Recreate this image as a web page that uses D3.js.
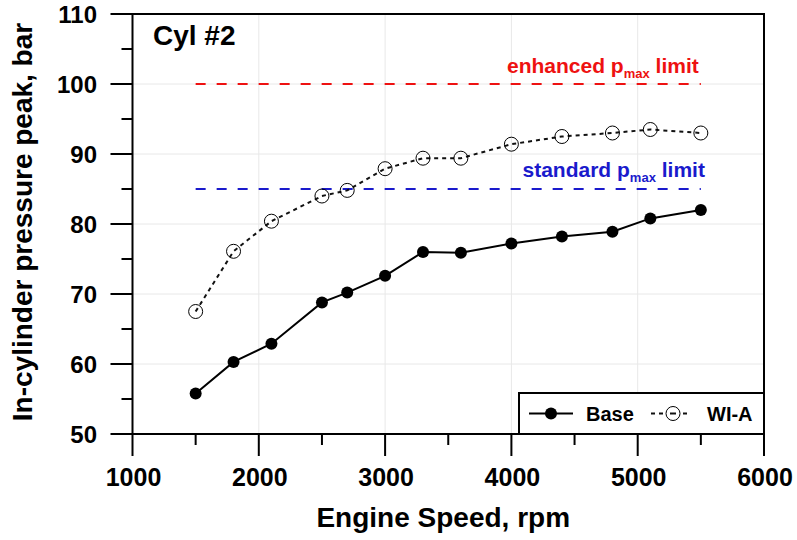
<!DOCTYPE html>
<html><head><meta charset="utf-8">
<script src="https://cdn.jsdelivr.net/npm/d3@7"></script>
<style>body{margin:0;background:#fff}svg{display:block}text{font-family:"Liberation Sans",Arial,sans-serif;font-weight:bold}</style>
</head><body><svg id="c" width="797" height="540"></svg>
<script>
const speeds = [1500,1800,2100,2500,2700,3000,3300,3600,4000,4400,4800,5100,5500];
const baseVals = [55.8,60.3,62.9,68.8,70.2,72.6,76.0,75.9,77.2,78.2,78.9,80.8,82.0];
const wiaVals  = [67.5,76.1,80.4,84.0,84.8,87.9,89.4,89.4,91.4,92.5,93.0,93.5,93.0];
const xTicks = [1000,2000,3000,4000,5000,6000];
const yTicks = [50,60,70,80,90,100,110];
const xMinor = [1500,2500,3500,4500,5500];
const yMinor = [55,65,75,85,95,105];
const limits = [{value:100,label:"enhanced p",sub:"max",tail:" limit",color:"#ee1111"},
                {value:85,label:"standard p",sub:"max",tail:" limit",color:"#1a1acc"}];
const limitRange = [1500,5500];

const svg = d3.select("#c");
const L=132.5,R=764,T=14,B=434;
const x = d3.scaleLinear().domain([1000,6000]).range([L,R]);
const y = d3.scaleLinear().domain([50,110]).range([B,T]);

// grid
const g = svg.append("g");
g.selectAll(".gx").data(xTicks.slice(1,-1)).join("line")
 .attr("x1",d=>x(d)).attr("x2",d=>x(d)).attr("y1",T).attr("y2",B)
 .attr("stroke","#e8e8e8").attr("stroke-width",1);
g.selectAll(".gy").data(yTicks.slice(1,-1)).join("line")
 .attr("x1",L).attr("x2",R).attr("y1",d=>y(d)).attr("y2",d=>y(d))
 .attr("stroke","#e8e8e8").attr("stroke-width",1);

// limit lines
limits.forEach((l,i)=>{
  svg.append("line").attr("x1",x(limitRange[0])).attr("x2",x(limitRange[1]))
   .attr("y1",y(l.value)).attr("y2",y(l.value))
   .attr("stroke",l.color).attr("stroke-width",2).attr("stroke-dasharray","10,11");
});
const lt = [{x:507,y:73},{x:522.5,y:177}];
limits.forEach((l,i)=>{
  const t = svg.append("text").attr("x",lt[i].x).attr("y",lt[i].y).attr("fill",l.color).attr("font-size",21);
  t.append("tspan").text(l.label);
  t.append("tspan").attr("font-size",13).attr("dy",5).text(l.sub);
  t.append("tspan").attr("dy",-5).text(l.tail);
});

// series
const line = d3.line().x((d,i)=>x(speeds[i])).y(d=>y(d));
svg.append("path").datum(wiaVals).attr("d",line).attr("fill","none")
 .attr("stroke","#111").attr("stroke-width",2).attr("stroke-dasharray","4,4");
svg.append("path").datum(baseVals).attr("d",line).attr("fill","none")
 .attr("stroke","#000").attr("stroke-width",2);
svg.selectAll(".bm").data(baseVals).join("circle")
 .attr("cx",(d,i)=>x(speeds[i])).attr("cy",d=>y(d)).attr("r",6).attr("fill","#000");
svg.selectAll(".wm").data(wiaVals).join("circle")
 .attr("cx",(d,i)=>x(speeds[i])).attr("cy",d=>y(d)).attr("r",7)
 .attr("fill","none").attr("stroke","#000").attr("stroke-width",1);

// axes frame
const ax = svg.append("g").attr("stroke","#000").attr("stroke-width",2);
ax.append("rect").attr("x",L).attr("y",T).attr("width",R-L).attr("height",B-T).attr("fill","none");
ax.selectAll(".xt").data(xTicks).join("line").attr("x1",d=>x(d)).attr("x2",d=>x(d)).attr("y1",B).attr("y2",B+22);
ax.selectAll(".xm").data(xMinor).join("line").attr("x1",d=>x(d)).attr("x2",d=>x(d)).attr("y1",B).attr("y2",B+11);
ax.selectAll(".yt").data(yTicks).join("line").attr("x1",L-22).attr("x2",L).attr("y1",d=>y(d)).attr("y2",d=>y(d));
ax.selectAll(".ym").data(yMinor).join("line").attr("x1",L-11).attr("x2",L).attr("y1",d=>y(d)).attr("y2",d=>y(d));

svg.selectAll(".xl").data(xTicks).join("text").attr("x",d=>x(d)+1).attr("y",486)
 .attr("text-anchor","middle").attr("font-size",25).text(d=>d);
svg.selectAll(".yl").data(yTicks).join("text").attr("x",97).attr("y",d=>y(d)+9)
 .attr("text-anchor","end").attr("font-size",24).text(d=>d);

svg.append("text").attr("x",(L+R)/2-5).attr("y",527).attr("text-anchor","middle").attr("font-size",28).text("Engine Speed, rpm");
svg.append("text").attr("transform","translate(32,222) rotate(-90)").attr("text-anchor","middle").attr("font-size",28).text("In-cylinder pressure peak, bar");
svg.append("text").attr("x",153).attr("y",45).attr("font-size",28).text("Cyl #2");

// legend
const lg = svg.append("g");
lg.append("rect").attr("x",519).attr("y",393).attr("width",R-519).attr("height",B-393)
 .attr("fill","#fff").attr("stroke","#000").attr("stroke-width",2);
lg.append("line").attr("x1",529).attr("x2",573).attr("y1",413.5).attr("y2",413.5).attr("stroke","#000").attr("stroke-width",2);
lg.append("circle").attr("cx",551).attr("cy",413.5).attr("r",6).attr("fill","#000");
lg.append("text").attr("x",586).attr("y",421).attr("font-size",20).text("Base");
lg.append("line").attr("x1",651).attr("x2",687).attr("y1",413.5).attr("y2",413.5).attr("stroke","#111").attr("stroke-width",2).attr("stroke-dasharray","4,4");
lg.append("circle").attr("cx",673).attr("cy",413.5).attr("r",7).attr("fill","#fff").attr("stroke","#000").attr("stroke-width",1);
lg.append("line").attr("x1",670).attr("x2",676).attr("y1",413.5).attr("y2",413.5).attr("stroke","#111").attr("stroke-width",2);
lg.append("text").attr("x",707).attr("y",421).attr("font-size",20).text("WI-A");
</script></body></html>
